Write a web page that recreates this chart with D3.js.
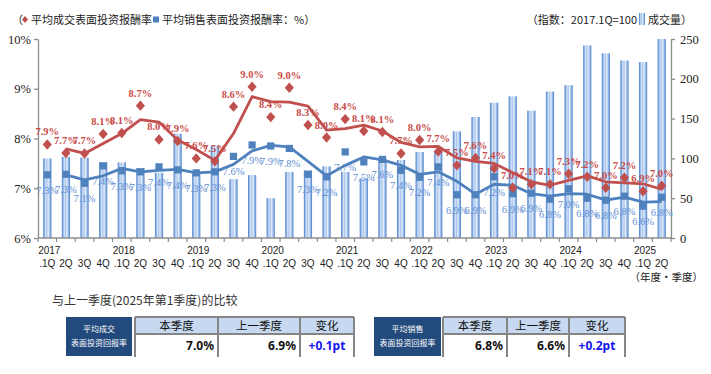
<!DOCTYPE html>
<html><head><meta charset="utf-8">
<script src="https://cdn.jsdelivr.net/npm/d3@7"></script>
<style>
body{margin:0;background:#fff;}
svg{display:block;}
</style></head>
<body><svg id="c" width="711" height="374"></svg>
<script>
const quarters = ["2017.1Q","2017.2Q","2017.3Q","2017.4Q","2018.1Q","2018.2Q","2018.3Q","2018.4Q","2019.1Q","2019.2Q","2019.3Q","2019.4Q","2020.1Q","2020.2Q","2020.3Q","2020.4Q","2021.1Q","2021.2Q","2021.3Q","2021.4Q","2022.1Q","2022.2Q","2022.3Q","2022.4Q","2023.1Q","2023.2Q","2023.3Q","2023.4Q","2024.1Q","2024.2Q","2024.3Q","2024.4Q","2025.1Q","2025.2Q"];
const yearLabels = ["2017","","","","2018","","","","2019","","","","2020","","","","2021","","","","2022","","","","2023","","","","2024","","","","2025",""];
const quarterLabels = [".1Q","2Q","3Q","4Q",".1Q","2Q","3Q","4Q",".1Q","2Q","3Q","4Q",".1Q","2Q","3Q","4Q",".1Q","2Q","3Q","4Q",".1Q","2Q","3Q","4Q",".1Q","2Q","3Q","4Q",".1Q","2Q","3Q","4Q",".1Q","2Q"];
const volumeIndex = [100,102,101,95,95,88,82,131,83,116,74,79,50,83,85,90,83,75,100,98,108,108,134,152,170,178,160,184,192,242,232,223,221,250];
const dealYield = [7.88,7.71,7.70,8.09,8.11,8.66,7.98,7.95,7.60,7.54,8.64,9.04,8.43,9.02,8.27,8.02,8.39,8.15,8.13,7.70,7.97,7.74,7.46,7.61,7.40,7.01,7.08,7.08,7.29,7.23,7.01,7.21,6.94,7.05];
const dealLabels = ["7.9%","7.7%","7.7%","8.1%","8.1%","8.7%","8.0%","7.9%","7.6%","7.5%","8.6%","9.0%","8.4%","9.0%","8.3%","8.0%","8.4%","8.1%","8.1%","7.7%","8.0%","7.7%","7.5%","7.6%","7.4%","7.0%","7.1%","7.1%","7.3%","7.2%","7.0%","7.2%","6.9%","7.0%"];
const dealTrend = [null,7.79,7.70,7.90,8.10,8.38,8.33,7.97,7.78,7.56,8.10,8.84,8.74,8.73,8.65,8.17,8.20,8.27,8.15,7.92,7.83,7.84,7.61,7.54,7.50,7.31,7.13,7.06,7.16,7.25,7.13,7.11,7.09,6.98];
const saleYield = [7.27,7.28,7.10,7.45,7.35,7.33,7.43,7.37,7.31,7.33,7.64,7.87,7.85,7.80,7.28,7.23,7.73,7.53,7.58,7.36,7.22,7.43,6.87,6.87,7.23,6.89,6.90,6.78,6.99,6.80,6.76,6.84,6.64,6.82];
const saleLabels = ["7.3%","7.3%","7.1%","7.4%","7.3%","7.3%","7.4%","7.4%","7.3%","7.3%","7.6%","7.9%","7.9%","7.8%","7.3%","7.2%","7.7%","7.5%","7.6%","7.4%","7.2%","7.4%","6.9%","6.9%","7.2%","6.9%","6.9%","6.8%","7.0%","6.8%","6.8%","6.8%","6.6%","6.8%"];
const saleTrend = [null,7.27,7.17,7.25,7.40,7.33,7.36,7.38,7.31,7.33,7.48,7.75,7.86,7.83,7.54,7.25,7.46,7.63,7.57,7.46,7.28,7.33,7.14,6.88,7.08,7.06,6.89,6.84,6.89,6.88,6.76,6.82,6.72,6.73];
const leftTicks = [6,7,8,9,10];
const rightTicks = [0,50,100,150,200,250];
const tableHeaders = ["本季度","上一季度","变化"];
const dealTable = ["7.0%","6.9%","+0.1pt"];
const saleTable = ["6.8%","6.6%","+0.2pt"];

const svg = d3.select("#c");
const L = 38, R = 671, T = 39, B = 238;
const x = d3.scaleBand().domain(quarters).range([L, R]).paddingInner(0.56).paddingOuter(0.28);
const step = x.step();
const cx = q => x(q) + x.bandwidth()/2;
const yL = d3.scaleLinear().domain([6,10]).range([B,T]);
const yR = d3.scaleLinear().domain([0,250]).range([B,T]);

const defs = svg.append("defs");
const g = defs.append("linearGradient").attr("id","barGrad").attr("x1","0").attr("x2","1").attr("y1","0").attr("y2","0");
[[0,"#4a7fc9"],[0.14,"#7fa8e0"],[0.3,"#d6e4f6"],[0.45,"#a8c6ee"],[0.62,"#e6eef9"],[0.82,"#90b4e6"],[1,"#4a7fc9"]].forEach(s=>g.append("stop").attr("offset",s[0]).attr("stop-color",s[1]));

// bars
svg.append("g").selectAll("rect").data(quarters).join("rect")
  .attr("x", q=>x(q)).attr("width", x.bandwidth())
  .attr("y", (q,i)=>yR(volumeIndex[i])).attr("height",(q,i)=>B-yR(volumeIndex[i]))
  .attr("fill","url(#barGrad)");

// axes
const axisColor = "#8c8c8c";
const ga = svg.append("g").attr("transform",`translate(${L},0)`)
  .call(d3.axisLeft(yL).tickValues(leftTicks).tickFormat(d=>d+"%").tickSize(4).tickSizeOuter(0));
const gr = svg.append("g").attr("transform",`translate(${R},0)`)
  .call(d3.axisRight(yR).tickValues(rightTicks).tickSize(4).tickSizeOuter(0));
[ga,gr].forEach(a=>{
  a.selectAll("path,line").attr("stroke",axisColor).attr("stroke-width",1.3);
  a.selectAll("text").attr("font-family","'Liberation Serif',serif").attr("font-size",12.5).attr("fill","#222");
});
ga.selectAll("text").attr("x",-7);
gr.selectAll("text").attr("x",9);

// bottom axis
const gb = svg.append("g");
gb.append("line").attr("x1",L).attr("x2",R).attr("y1",B).attr("y2",B).attr("stroke",axisColor).attr("stroke-width",1.3);
gb.selectAll("line.tk").data(quarters.concat(["end"])).join("line").attr("class","tk")
  .attr("x1",(q,i)=> i<quarters.length ? x(q)-(step-x.bandwidth())/2 : R)
  .attr("x2",(q,i)=> i<quarters.length ? x(q)-(step-x.bandwidth())/2 : R)
  .attr("y1",B).attr("y2",B+4).attr("stroke",axisColor).attr("stroke-width",1.2);
gb.selectAll("text.yr").data(quarters).join("text").attr("class","yr")
  .attr("x",q=>cx(q)+2).attr("y",254).attr("text-anchor","middle")
  .attr("font-family","'Liberation Sans',Arial,sans-serif").attr("font-size",10).attr("fill","#222")
  .text((q,i)=>yearLabels[i]);
gb.selectAll("text.qt").data(quarters).join("text").attr("class","qt")
  .attr("x",q=>cx(q)).attr("y",267).attr("text-anchor","middle")
  .attr("font-family","'Liberation Sans',Arial,sans-serif").attr("font-size",10).attr("fill","#222")
  .text((q,i)=>quarterLabels[i]);

// trend lines
const red = "#c0504d", blue = "#4f81bd";
const line = arr => d3.line().defined(d=>d!=null).x((d,i)=>cx(quarters[i])).y(d=>yL(d))(arr);
svg.append("path").attr("d",line(saleTrend)).attr("fill","none").attr("stroke",blue).attr("stroke-width",2.8).attr("stroke-linejoin","round");
svg.append("path").attr("d",line(dealTrend)).attr("fill","none").attr("stroke",red).attr("stroke-width",2.8).attr("stroke-linejoin","round");

// markers
svg.append("g").selectAll("rect").data(saleYield).join("rect")
  .attr("x",(d,i)=>cx(quarters[i])-3.6).attr("y",d=>yL(d)-3.6).attr("width",7.2).attr("height",7.2).attr("fill",blue);
svg.append("g").selectAll("path").data(dealYield).join("path")
  .attr("transform",(d,i)=>`translate(${cx(quarters[i])},${yL(d)})`)
  .attr("d","M0,-5.2L4.6,0L0,5.2L-4.6,0Z").attr("fill",red);

// labels
svg.append("g").selectAll("text").data(saleYield).join("text")
  .attr("x",(d,i)=>cx(quarters[i])).attr("y",d=>yL(d)+19).attr("text-anchor","middle")
  .attr("font-family","'Liberation Serif',serif").attr("font-size",10.5).attr("fill","#5f8fd3")
  .text((d,i)=>saleLabels[i]);
svg.append("g").selectAll("text").data(dealYield).join("text")
  .attr("x",(d,i)=>cx(quarters[i])).attr("y",d=>yL(d)-9).attr("text-anchor","middle")
  .attr("font-family","'Liberation Serif',serif").attr("font-size",10.5).attr("font-weight","bold").attr("fill","#c94a47")
  .text((d,i)=>dealLabels[i]);

// legends
const cjk = "'Noto Sans CJK SC','Noto Sans',sans-serif";
const lg = svg.append("g").attr("font-family",cjk).attr("font-size",11).attr("fill","#222");
lg.append("text").attr("x",12).attr("y",24).text("（");
lg.append("path").attr("transform","translate(25,19.5)").attr("d","M0,-3.5L3,0L0,3.5L-3,0Z").attr("fill",red);
lg.append("text").attr("x",31).attr("y",24).text("平均成交表面投资报酬率");
lg.append("rect").attr("x",153).attr("y",16.5).attr("width",6).attr("height",6).attr("fill",blue);
lg.append("text").attr("x",162).attr("y",24).text("平均销售表面投资报酬率：%）");

const rl = svg.append("g").attr("font-family",cjk).attr("font-size",11).attr("fill","#222");
const t2 = rl.append("text").attr("x",692).attr("y",24).attr("text-anchor","end").text("成交量）");
const w2 = t2.node().getComputedTextLength();
rl.append("rect").attr("x",692-w2-9).attr("y",13).attr("width",6).attr("height",12).attr("fill","url(#barGrad)");
rl.append("text").attr("x",692-w2-11).attr("y",24).attr("text-anchor","end").text("（指数：2017.1Q=100");

svg.append("text").attr("x",703).attr("y",281).attr("text-anchor","end")
  .attr("font-family",cjk).attr("font-size",10.5).attr("fill","#222").text("（年度・季度）");

svg.append("text").attr("x",52).attr("y",305).attr("font-family",cjk).attr("font-size",12).attr("fill","#333")
  .text("与上一季度(2025年第1季度)的比较");

// tables
function table(boxX, boxW, tx, title1, title2, vals){
  const top = 317, mid = 334, bot = 356;
  const tg = svg.append("g");
  tg.append("rect").attr("x",boxX).attr("y",top).attr("width",boxW).attr("height",bot-top).attr("fill","#234a7c");
  tg.append("text").attr("x",boxX+boxW/2).attr("y",332).attr("text-anchor","middle").attr("font-family",cjk).attr("font-size",8).attr("fill","#fff").text(title1);
  tg.append("text").attr("x",boxX+boxW/2).attr("y",346).attr("text-anchor","middle").attr("font-family",cjk).attr("font-size",8).attr("fill","#fff").text(title2);
  tg.append("rect").attr("x",tx[0]).attr("y",top).attr("width",tx[3]-tx[0]).attr("height",mid-top).attr("fill","#c6d9f0");
  const gc = "#858585";
  tg.append("line").attr("x1",tx[0]).attr("x2",tx[3]).attr("y1",top).attr("y2",top).attr("stroke",gc).attr("stroke-width",2);
  tg.append("line").attr("x1",tx[0]).attr("x2",tx[3]).attr("y1",mid).attr("y2",mid).attr("stroke",gc).attr("stroke-width",2);
  tx.forEach(v=>tg.append("line").attr("x1",v).attr("x2",v).attr("y1",top).attr("y2",bot+1).attr("stroke",gc).attr("stroke-width",2));
  tableHeaders.forEach((h,i)=>tg.append("text").attr("x",(tx[i]+tx[i+1])/2).attr("y",330).attr("text-anchor","middle")
    .attr("font-family",cjk).attr("font-size",11.5).attr("fill","#111").text(h));
  vals.forEach((v,i)=>{
    const isLast = i===2;
    tg.append("text").attr("x", isLast ? (tx[i]+tx[i+1])/2 : tx[i+1]-4).attr("y",350)
      .attr("text-anchor", isLast ? "middle":"end")
      .attr("font-family","'Noto Sans','Liberation Sans',sans-serif").attr("font-size",12).attr("font-weight","bold")
      .attr("fill", isLast ? "#1414f0" : "#111").text(v);
  });
}
table(66, 66, [135,218,300,354], "平均成交", "表面投资回报率", dealTable);
table(374, 67, [443,507,569,625], "平均销售", "表面投资回报率", saleTable);
</script></body></html>
